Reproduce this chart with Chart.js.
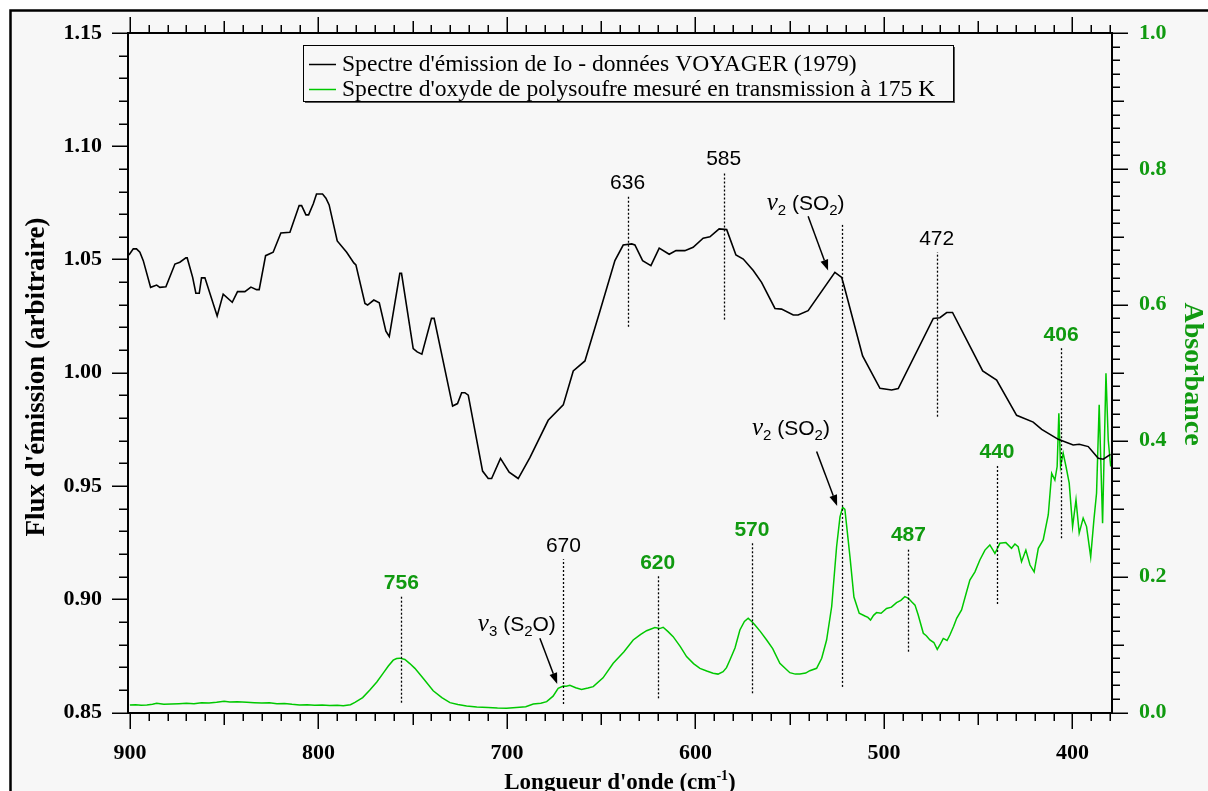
<!DOCTYPE html>
<html>
<head>
<meta charset="utf-8">
<script src="https://cdn.jsdelivr.net/npm/chart.js@4.4.1/dist/chart.umd.min.js"></script>
<style>
  html, body { margin: 0; padding: 0; background: #ffffff; }
  #wrap { width: 1208px; height: 791px; }
</style>
</head>
<body>
<div id="wrap"><canvas id="chart" width="1208" height="791"></canvas></div>
<script>
// ---- tick labels ----
const waveTicks = [900, 800, 700, 600, 500, 400];
const fluxTicks = [0.85, 0.90, 0.95, 1.00, 1.05, 1.10, 1.15];
const absTicks = [0.0, 0.2, 0.4, 0.6, 0.8, 1.0];

// ---- Io emission spectrum, Voyager 1979 (cm-1, arbitrary flux) ----
const ioWavenumber = [
  900.5, 898.2, 896.5, 894.7, 892.9, 889.0, 885.8, 884.1, 880.9, 876.1,
  873.5, 870.3, 869.6, 868.2, 866.7, 865.0, 863.2, 862.0, 860.2, 853.7,
  850.5, 845.7, 842.9, 839.0, 835.8, 832.8, 831.4, 828.0, 824.0, 819.9,
  815.1, 810.2, 808.9, 806.6, 805.2, 802.7, 801.0, 797.8, 796.0, 794.3,
  790.0, 785.0, 781.2, 780.1, 775.3, 773.9, 770.6, 767.7, 764.2, 762.4,
  756.8, 755.9, 749.7, 747.6, 745.1, 740.0, 738.6, 728.8, 726.2, 724.0,
  722.3, 720.5, 712.9, 709.9, 708.1, 703.4, 698.8, 694.0, 687.8, 678.1,
  670.1, 664.8, 658.6, 650.7, 642.7, 638.3, 633.8, 632.1, 628.0, 623.6,
  619.2, 613.9, 610.3, 605.6, 601.2, 595.9, 592.3, 587.4, 583.4, 578.5,
  574.6, 569.3, 564.9, 557.8, 554.3, 548.1, 545.5, 540.2, 526.0, 522.4,
  520.7, 511.3, 502.1, 495.9, 492.4, 473.8, 470.3, 466.7, 463.6, 447.6,
  440.2, 429.6, 420.8, 416.3, 407.5, 399.6, 396.4, 391.6, 386.3, 383.6,
  379.8
];
const ioFlux = [
  1.0520, 1.0547, 1.0547, 1.0532, 1.0495, 1.0377, 1.0387, 1.0377, 1.0380, 1.0480,
  1.0488, 1.0507, 1.0507, 1.0466, 1.0421, 1.0351, 1.0351, 1.0419, 1.0419, 1.0251,
  1.0347, 1.0311, 1.0358, 1.0358, 1.0378, 1.0367, 1.0367, 1.0517, 1.0532, 1.0617,
  1.0620, 1.0738, 1.0738, 1.0697, 1.0697, 1.0746, 1.0789, 1.0789, 1.0771, 1.0741,
  1.0582, 1.0532, 1.0485, 1.0476, 1.0306, 1.0299, 1.0321, 1.0309, 1.0184, 1.0160,
  1.0439, 1.0439, 1.0107, 1.0092, 1.0082, 1.0240, 1.0240, 0.9853, 0.9864, 0.9912,
  0.9912, 0.9901, 0.9566, 0.9533, 0.9533, 0.9622, 0.9561, 0.9533, 0.9625, 0.9790,
  0.9858, 1.0008, 1.0052, 1.0270, 1.0495, 1.0564, 1.0569, 1.0564, 1.0495, 1.0473,
  1.0550, 1.0523, 1.0539, 1.0539, 1.0554, 1.0594, 1.0600, 1.0635, 1.0632, 1.0520,
  1.0502, 1.0451, 1.0399, 1.0284, 1.0281, 1.0255, 1.0255, 1.0274, 1.0443, 1.0421,
  1.0370, 1.0074, 0.9931, 0.9924, 0.9930, 1.0240, 1.0243, 1.0266, 1.0266, 1.0008,
  0.9968, 0.9812, 0.9782, 0.9750, 0.9706, 0.9681, 0.9684, 0.9674, 0.9622, 0.9618,
  0.9640
];

// ---- polysulfur oxide transmission spectrum at 175 K (cm-1, absorbance) ----
const soWavenumber = [
  900.0, 897.0, 894.0, 891.0, 888.0, 885.8, 882.0, 878.0, 874.0, 870.0,
  866.0, 862.0, 858.0, 854.0, 850.0, 847.0, 843.0, 838.0, 834.0, 830.0,
  826.0, 822.0, 818.0, 814.0, 810.0, 806.0, 802.0, 798.0, 794.0, 790.0,
  786.8, 783.0, 780.6, 776.5, 772.7, 769.0, 765.6, 763.0, 760.3, 758.5,
  756.8, 754.1, 751.5, 748.8, 744.0, 739.1, 734.5, 730.2, 726.0, 721.4,
  716.0, 710.0, 705.0, 700.2, 695.0, 690.0, 686.0, 682.0, 678.9, 675.5,
  672.8, 670.1, 668.5, 666.6, 663.5, 660.4, 657.0, 654.2, 649.0, 643.6,
  638.0, 633.0, 629.0, 625.9, 621.5, 619.0, 617.1, 614.5, 611.8, 608.0,
  604.7, 601.0, 597.6, 594.0, 590.6, 588.0, 585.3, 583.5, 581.7, 579.0,
  576.4, 574.0, 572.0, 570.0, 568.4, 565.5, 562.2, 559.0, 555.2, 552.0,
  549.9, 547.0, 544.6, 541.5, 539.3, 535.7, 533.0, 530.4, 527.7, 525.1,
  523.3, 521.9, 520.7, 518.0, 515.9, 513.1, 510.1, 508.5, 507.1, 505.5,
  503.9, 501.5, 498.6, 496.0, 493.3, 491.0, 488.9, 487.0, 485.3, 483.5,
  481.8, 479.1, 477.5, 475.6, 473.5, 471.7, 470.0, 468.5, 466.5, 465.0,
  463.0, 461.4, 458.8, 456.1, 454.4, 451.7, 449.1, 446.4, 443.8, 441.1,
  438.5, 435.3, 432.3, 430.5, 428.8, 427.0, 424.7, 422.5, 420.3, 418.1,
  415.5, 412.8, 411.0, 409.3, 408.1, 407.2, 406.3, 404.9, 403.4, 401.7,
  399.9, 398.1, 396.4, 394.3, 392.5, 390.3, 388.6, 387.2, 385.8, 384.0,
  382.2, 381.0, 379.7
];
const soAbsorbance = [
  0.0110, 0.0115, 0.0105, 0.0110, 0.0120, 0.0135, 0.0120, 0.0125, 0.0130, 0.0135,
  0.0130, 0.0145, 0.0140, 0.0150, 0.0165, 0.0155, 0.0158, 0.0150, 0.0145, 0.0138,
  0.0142, 0.0130, 0.0133, 0.0120, 0.0110, 0.0115, 0.0105, 0.0110, 0.0102, 0.0108,
  0.0100, 0.0115, 0.0150, 0.0220, 0.0330, 0.0450, 0.0580, 0.0680, 0.0770, 0.0795,
  0.0800, 0.0780, 0.0720, 0.0650, 0.0490, 0.0320, 0.0220, 0.0145, 0.0118, 0.0096,
  0.0080, 0.0072, 0.0065, 0.0062, 0.0075, 0.0085, 0.0125, 0.0135, 0.0160, 0.0240,
  0.0356, 0.0390, 0.0385, 0.0400, 0.0365, 0.0340, 0.0360, 0.0380, 0.0510, 0.0724,
  0.0890, 0.1067, 0.1150, 0.1204, 0.1249, 0.1235, 0.1254, 0.1190, 0.1116, 0.0970,
  0.0822, 0.0720, 0.0650, 0.0610, 0.0577, 0.0565, 0.0600, 0.0660, 0.0773, 0.0950,
  0.1215, 0.1340, 0.1387, 0.1335, 0.1288, 0.1190, 0.1067, 0.0940, 0.0724, 0.0640,
  0.0586, 0.0565, 0.0567, 0.0580, 0.0615, 0.0650, 0.0798, 0.1067, 0.1560, 0.2440,
  0.2880, 0.3020, 0.2990, 0.2290, 0.1700, 0.1460, 0.1420, 0.1400, 0.1360, 0.1430,
  0.1470, 0.1460, 0.1530, 0.1550, 0.1617, 0.1650, 0.1705, 0.1680, 0.1630, 0.1580,
  0.1435, 0.1166, 0.1130, 0.1067, 0.1030, 0.0930, 0.1010, 0.1090, 0.1060, 0.1140,
  0.1270, 0.1387, 0.1510, 0.1780, 0.1950, 0.2070, 0.2245, 0.2390, 0.2466, 0.2340,
  0.2490, 0.2500, 0.2417, 0.2480, 0.2440, 0.2220, 0.2390, 0.2170, 0.2070, 0.2417,
  0.2540, 0.2910, 0.3520, 0.3420, 0.3620, 0.4405, 0.3620, 0.3816, 0.3620, 0.3375,
  0.2736, 0.3130, 0.2640, 0.2860, 0.2736, 0.2290, 0.2834, 0.3227, 0.4527, 0.2786,
  0.4994, 0.4010, 0.3620
];

// ---- annotated band positions (cm-1) ----
const ioPeaks = [636, 585, 472];
const soPeaks = [756, 620, 570, 487, 440, 406];
const s2oBand = 670;
const so2Band = 522;

// vertical extent of each dotted marker, in the units of its own axis
const ioPeakSpans = [[1.0203, 1.0781], [1.0235, 1.0886], [0.9806, 1.0532]];
const soPeakSpans = [[0.0144, 0.1715], [0.0209, 0.2010], [0.0283, 0.2500],
                     [0.0895, 0.2418], [0.1597, 0.3644], [0.2565, 0.5362]];
const s2oSpan = [0.0125, 0.2256];
const so2Span = [0.8613, 1.0657];   // left axis, crosses both spectra

const BLACK = '#000000';
const LINE_GREEN = '#00c800';
const TEXT_GREEN = '#109a10';
const BG = '#f7f7f7';
const SERIF = '"Liberation Serif", "Times New Roman", serif';
const SANS = '"Liberation Sans", Arial, sans-serif';

// vibrational band notes: ν label + arrow, coordinates in data units
const bandNotes = [
  { nu: '2', mol: [['SO', 0], ['2', 5], [')', 0]], axis: 'y',  x: 562.2, y: 1.0717,
    tail: [540.2, 1.0691], tip: [529.6, 1.0451] },
  { nu: '2', mol: [['SO', 0], ['2', 5], [')', 0]], axis: 'y2', x: 570.0, y: 0.4086,
    tail: [535.7, 0.3840], tip: [524.8, 0.3040] },
  { nu: '3', mol: [['S', 0], ['2', 5], ['O)', 0]], axis: 'y2', x: 715.4, y: 0.1200,
    tail: [682.5, 0.1092], tip: [673.3, 0.0420] }
];

const legendItems = [
  { text: "Spectre d'émission de Io - données VOYAGER (1979)", color: BLACK },
  { text: "Spectre d'oxyde de polysoufre mesuré en transmission à 175 K", color: LINE_GREEN }
];

function toPoints(xs, ys) { return xs.map((x, i) => ({ x: x, y: ys[i] })); }

function drawRich(ctx, x, y, parts, color) {
  ctx.fillStyle = color;
  ctx.textAlign = 'left';
  ctx.textBaseline = 'alphabetic';
  for (const p of parts) {
    ctx.font = p.font;
    ctx.fillText(p.t, x, y + (p.dy || 0));
    x += ctx.measureText(p.t).width;
  }
}
function richWidth(ctx, parts) {
  let w = 0;
  for (const p of parts) { ctx.font = p.font; w += ctx.measureText(p.t).width; }
  return w;
}

function drawArrow(ctx, x1, y1, x2, y2) {
  const ang = Math.atan2(y2 - y1, x2 - x1);
  const hl = 11, hw = 4;
  ctx.strokeStyle = BLACK; ctx.fillStyle = BLACK; ctx.lineWidth = 1.5;
  ctx.setLineDash([]);
  ctx.beginPath();
  ctx.moveTo(x1, y1);
  ctx.lineTo(x2 - hl * Math.cos(ang), y2 - hl * Math.sin(ang));
  ctx.stroke();
  ctx.beginPath();
  ctx.moveTo(x2, y2);
  ctx.lineTo(x2 - hl * Math.cos(ang) + hw * Math.sin(ang), y2 - hl * Math.sin(ang) - hw * Math.cos(ang));
  ctx.lineTo(x2 - hl * Math.cos(ang) - hw * Math.sin(ang), y2 - hl * Math.sin(ang) + hw * Math.cos(ang));
  ctx.closePath();
  ctx.fill();
}

// scales keep no extra room for overhanging labels
function noOverhang(s) { s.paddingTop = 0; s.paddingBottom = 0; s.paddingLeft = 0; s.paddingRight = 0; }

const decor = {
  id: 'decor',
  beforeDraw(chart) {
    const ctx = chart.ctx, W = chart.width, H = chart.height;
    ctx.save();
    ctx.fillStyle = '#ffffff';
    ctx.fillRect(0, 0, W, H);
    ctx.fillStyle = BG;
    ctx.fillRect(11, 11, W, H);
    ctx.strokeStyle = BLACK;
    ctx.lineWidth = 2.5;
    ctx.beginPath();
    ctx.moveTo(10.5, H + 5);
    ctx.lineTo(10.5, 10.5);
    ctx.lineTo(W + 5, 10.5);
    ctx.stroke();
    ctx.restore();
  },
  afterDatasetsDraw(chart) {
    const ctx = chart.ctx;
    const a = chart.chartArea;
    const sx = chart.scales.x, sy = chart.scales.y, sy2 = chart.scales.y2;
    const L = Math.round(a.left), R = Math.round(a.right), T = Math.round(a.top), B = Math.round(a.bottom);
    ctx.save();

    // axis frame
    ctx.strokeStyle = BLACK;
    ctx.lineWidth = 2;
    ctx.setLineDash([]);
    ctx.strokeRect(L, T, R - L, B - T);

    // wavenumber ticks, bottom and top
    ctx.lineWidth = 1.5;
    ctx.beginPath();
    for (let v = 900; v >= 380; v -= 10) {
      const px = Math.round(sx.getPixelForValue(v)) + 0.25;
      const len = v % 100 === 0 ? 16 : (v % 50 === 0 ? 12 : 8);
      ctx.moveTo(px, B); ctx.lineTo(px, B + len);
      ctx.moveTo(px, T); ctx.lineTo(px, T - len);
    }
    // flux ticks (left)
    for (let i = 0; i <= 30; i++) {
      const v = 0.85 + i * 0.01;
      const py = Math.round(sy.getPixelForValue(v)) + 0.25;
      const len = i % 5 === 0 ? 16 : 9;
      ctx.moveTo(L, py); ctx.lineTo(L - len, py);
    }
    // absorbance ticks (right)
    for (let i = 0; i <= 50; i++) {
      const v = i * 0.02;
      const py = Math.round(sy2.getPixelForValue(v)) + 0.25;
      const len = i % 10 === 0 ? 16 : (i % 5 === 0 ? 12 : 8);
      ctx.moveTo(R, py); ctx.lineTo(R + len, py);
    }
    ctx.stroke();

    // dotted band markers
    const gap = 7;
    function marker(x, scale, span, text, color, bold) {
      const px = Math.round(sx.getPixelForValue(x)) + 0.5;
      const y0 = scale.getPixelForValue(span[0]);
      const y1 = scale.getPixelForValue(span[1]);
      ctx.strokeStyle = BLACK;
      ctx.lineWidth = 1.3;
      ctx.setLineDash([2, 2]);
      ctx.beginPath();
      ctx.moveTo(px, y0); ctx.lineTo(px, y1);
      ctx.stroke();
      ctx.setLineDash([]);
      if (text) {
        ctx.fillStyle = color;
        ctx.font = (bold ? 'bold ' : '') + '21px ' + SANS;
        ctx.textAlign = 'center';
        ctx.textBaseline = 'alphabetic';
        ctx.fillText(text, sx.getPixelForValue(x), y1 - gap);
      }
    }
    ioPeaks.forEach((v, i) => marker(v, sy, ioPeakSpans[i], String(v), BLACK, false));
    soPeaks.forEach((v, i) => marker(v, sy2, soPeakSpans[i], String(v), TEXT_GREEN, true));
    marker(s2oBand, sy2, s2oSpan, String(s2oBand), BLACK, false);
    marker(so2Band, sy, so2Span, null);

    // ν band notes with arrows
    for (const n of bandNotes) {
      const sc = n.axis === 'y' ? sy : sy2;
      const parts = [
        { t: 'ν', font: 'italic 25px ' + SERIF, dy: 0 },
        { t: n.nu, font: '15px ' + SANS, dy: 5 },
        { t: ' (', font: '21px ' + SANS, dy: 0 }
      ];
      for (const m of n.mol) {
        parts.push(m[1] ? { t: m[0], font: '15px ' + SANS, dy: m[1] } : { t: m[0], font: '21px ' + SANS, dy: 0 });
      }
      drawRich(ctx, sx.getPixelForValue(n.x), sc.getPixelForValue(n.y), parts, BLACK);
      drawArrow(ctx, sx.getPixelForValue(n.tail[0]), sc.getPixelForValue(n.tail[1]),
                sx.getPixelForValue(n.tip[0]), sc.getPixelForValue(n.tip[1]));
    }

    // legend box
    const lx = 303, ly = 45, lw = 650, lh = 56;
    ctx.fillStyle = '#555555';
    ctx.fillRect(lx + 2, ly + 2, lw, lh);
    ctx.fillStyle = BG;
    ctx.fillRect(lx, ly, lw, lh);
    ctx.strokeStyle = BLACK;
    ctx.lineWidth = 1;
    ctx.strokeRect(lx + 0.5, ly + 0.5, lw, lh);
    legendItems.forEach((it, i) => {
      const yy = ly + 19 + i * 25;
      ctx.strokeStyle = it.color;
      ctx.lineWidth = 1.5;
      ctx.beginPath();
      ctx.moveTo(lx + 6, yy + 0.5); ctx.lineTo(lx + 33, yy + 0.5);
      ctx.stroke();
      ctx.fillStyle = BLACK;
      ctx.font = '23.6px ' + SERIF;
      ctx.textAlign = 'left';
      ctx.textBaseline = 'middle';
      ctx.fillText(it.text, lx + 39, yy + 1);
    });

    // axis titles
    ctx.fillStyle = BLACK;
    ctx.font = 'bold 27px ' + SERIF;
    ctx.textAlign = 'center';
    ctx.textBaseline = 'alphabetic';
    ctx.save();
    ctx.translate(44, 377);
    ctx.rotate(-Math.PI / 2);
    ctx.fillText("Flux d'émission (arbitraire)", 0, 0);
    ctx.restore();

    ctx.save();
    ctx.font = 'bold 28px ' + SERIF;
    ctx.fillStyle = TEXT_GREEN;
    ctx.translate(1185, 374);
    ctx.rotate(Math.PI / 2);
    ctx.fillText('Absorbance', 0, 0);
    ctx.restore();

    const xt = [
      { t: "Longueur d'onde (cm", font: 'bold 23px ' + SERIF, dy: 0 },
      { t: '-1', font: 'bold 14px ' + SERIF, dy: -9 },
      { t: ')', font: 'bold 23px ' + SERIF, dy: 0 }
    ];
    drawRich(ctx, 620 - richWidth(ctx, xt) / 2, 789, xt, BLACK);

    ctx.restore();
  }
};

new Chart(document.getElementById('chart'), {
  type: 'scatter',
  data: {
    datasets: [
      {
        label: legendItems[0].text,
        data: toPoints(ioWavenumber, ioFlux),
        yAxisID: 'y',
        showLine: true,
        borderColor: BLACK,
        borderWidth: 1.6,
        pointRadius: 0,
        tension: 0
      },
      {
        label: legendItems[1].text,
        data: toPoints(soWavenumber, soAbsorbance),
        yAxisID: 'y2',
        showLine: true,
        borderColor: LINE_GREEN,
        borderWidth: 1.5,
        pointRadius: 0,
        tension: 0
      }
    ]
  },
  options: {
    responsive: false,
    animation: false,
    devicePixelRatio: 1,
    layout: { padding: { top: 33, left: 0, right: 0, bottom: 0 } },
    plugins: { legend: { display: false }, tooltip: { enabled: false } },
    scales: {
      x: {
        type: 'linear', position: 'bottom', reverse: true, min: 379, max: 901, bounds: 'data',
        afterBuildTicks: s => { s.ticks = waveTicks.map(v => ({ value: v })); },
        afterFit: s => { s.height = 78.5; noOverhang(s); },
        grid: { display: false, drawTicks: false },
        border: { display: false },
        ticks: {
          autoSkip: false, maxRotation: 0, padding: 28, color: BLACK,
          font: { family: SERIF, size: 22, weight: 'bold' },
          callback: v => String(v)
        }
      },
      y: {
        type: 'linear', position: 'left', min: 0.85, max: 1.15, bounds: 'data',
        afterBuildTicks: s => { s.ticks = fluxTicks.map(v => ({ value: v })); },
        afterFit: s => { s.width = 128; noOverhang(s); },
        grid: { display: false, drawTicks: false },
        border: { display: false },
        ticks: {
          autoSkip: false, padding: 26, color: BLACK,
          font: { family: SERIF, size: 22, weight: 'bold' },
          callback: v => v.toFixed(2)
        }
      },
      y2: {
        type: 'linear', position: 'right', min: 0, max: 1.0, bounds: 'data',
        afterBuildTicks: s => { s.ticks = absTicks.map(v => ({ value: v })); },
        afterFit: s => { s.width = 96; noOverhang(s); },
        grid: { display: false, drawTicks: false },
        border: { display: false },
        ticks: {
          autoSkip: false, padding: 27, color: TEXT_GREEN,
          font: { family: SERIF, size: 22, weight: 'bold' },
          callback: v => v.toFixed(1)
        }
      }
    }
  },
  plugins: [decor]
});
</script>
</body>
</html>
